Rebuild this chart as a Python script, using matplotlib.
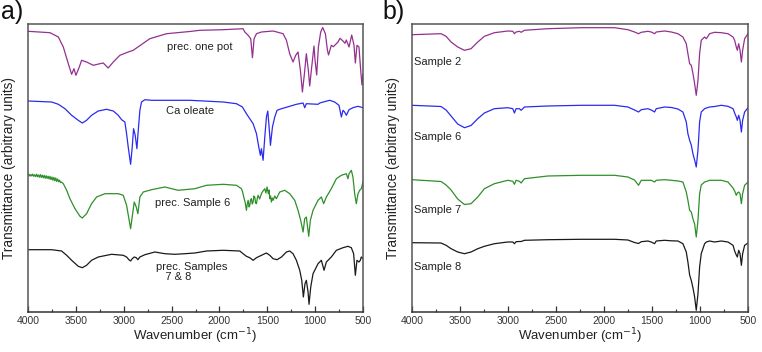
import matplotlib
matplotlib.use("Agg")
import matplotlib.pyplot as plt
from matplotlib.ticker import MultipleLocator

plt.rcParams['font.family'] = ['Liberation Sans', 'DejaVu Sans']

# ---------------- Panel a data (wavenumber cm-1, transmittance arb. units) ----------------
a_onepot_wn = [4000, 3770, 3683, 3631, 3579, 3544, 3520, 3499, 3464, 3440, 3388, 3318, 3249, 3214,
               3162, 3109, 3040, 2953, 2901, 2727, 2553, 2309, 2205, 1961, 1753, 1735, 1700, 1673,
               1655, 1638, 1613, 1561, 1439, 1335, 1300, 1266, 1231, 1203, 1179, 1154, 1133, 1112,
               1092, 1071, 1057, 1036, 1012, 1001, 984, 966, 942, 921, 893, 872, 860, 831, 810,
               761, 740, 709, 688, 674, 646, 618, 594, 580, 563, 542, 524, 511, 500]
a_onepot_t = [280.7, 279.3, 275, 265, 248.3, 237.7, 243.3, 236.7, 245, 251.7, 250, 246.7, 248.3, 249,
              244, 250, 256.7, 260, 261.7, 273.3, 278.3, 280.5, 281.7, 282.3, 283.3, 280, 276.7, 273.3,
              254.3, 273.3, 278.3, 280, 281, 278.3, 271.7, 258.3, 250, 256.7, 260, 241.7, 220, 238.3,
              258.3, 241.7, 226, 245, 266, 251.7, 237, 265, 280, 284.5, 278.3, 262, 257, 266.7, 265.3,
              270, 273.7, 271, 268.7, 272, 265, 277, 266.7, 249, 266.7, 265, 241.7, 227, 238]

a_oleate_wn = [4000, 3753, 3683, 3614, 3544, 3475, 3433, 3388, 3336, 3266, 3179, 3109, 3057, 3022,
               2988, 2970, 2953, 2928, 2911, 2897, 2880, 2862, 2848, 2831, 2814, 2779, 2709, 2309,
               1961, 1822, 1760, 1718, 1683, 1648, 1613, 1589, 1572, 1561, 1544, 1526, 1509, 1495,
               1481, 1467, 1446, 1422, 1398, 1352, 1266, 1196, 1126, 1109, 1092, 970, 952, 848,
               796, 751, 726, 709, 692, 674, 646, 605, 552, 500]
a_oleate_t = [211, 210, 207.7, 203.3, 196.7, 191.7, 189, 191.7, 196.7, 201, 202.7, 201, 196.7, 192.3,
              190, 178.3, 165, 147.7, 165, 183.3, 176.7, 163.3, 181.7, 201.7, 210, 212.3, 211.7, 211.7,
              210, 208.3, 205, 198.3, 193.3, 188.3, 178.3, 165, 156.7, 163.3, 151.7, 175, 195, 201,
              185, 166.7, 185, 195, 201.7, 203.3, 205.7, 207.7, 209, 204.3, 208.3, 207.7, 209, 211.7,
              210, 206.7, 195, 201.7, 200, 196.7, 202.3, 204.3, 205.7, 204.3]

a_s6_wn = [4000, 3990, 3980, 3970, 3960, 3950, 3940, 3930, 3920, 3910, 3900, 3890, 3880, 3870, 3860,
           3850, 3840, 3830, 3820, 3810, 3800, 3790, 3780, 3770, 3760, 3750, 3740, 3730, 3720, 3710,
           3700, 3690, 3680, 3670, 3660, 3650, 3631, 3596, 3562, 3509, 3457, 3433, 3388, 3336,
           3283, 3196, 3057, 3005, 2970, 2946, 2928, 2911, 2890, 2869, 2852, 2831, 2796, 2709, 2570,
           2431, 2257, 2135, 1961, 1822, 1770, 1758, 1746, 1732, 1718, 1709, 1700, 1690, 1683, 1675,
           1666, 1657, 1648, 1640, 1631, 1622, 1613, 1604, 1596, 1580, 1561, 1545, 1526, 1515, 1502,
           1495, 1488, 1481, 1474, 1466, 1457, 1448, 1439, 1422, 1405, 1370, 1318, 1266, 1213, 1179,
           1151, 1126, 1109, 1092, 1067, 1050, 1022, 970, 935, 911, 883, 831, 778, 726, 674, 657,
           646, 622, 605, 587, 570, 552, 535, 518, 500]
a_s6_t = [136.7, 137.8, 135.9, 137.5, 136, 137.9, 135.7, 137.2, 135.4, 137.8, 135.2, 137, 134.8, 137.4,
          134.6, 136.8, 134.2, 136.6, 133.8, 136.2, 133.6, 135.8, 133, 135.6, 132.4, 135, 131.8, 134.6,
          131.2, 134, 130.6, 133, 130.2, 131.8, 129.4, 130, 128.3, 121.7, 113.3, 103.3, 95.7, 94, 98.3, 108.3,
          115, 118.3, 118.3, 116.7, 106.7, 93.3, 83.3, 95, 110, 105, 98.3, 115, 120, 122.3, 125,
          121.7, 123.3, 126.7, 127.7, 126.7, 123.3, 120, 115, 110, 101.7, 108, 111.7, 105, 106.7, 112,
          113.3, 108, 110, 116, 115, 109, 108.3, 114, 116.7, 113, 118.3, 121, 123.3, 119, 125,
          121, 118.3, 122, 113.3, 116, 110, 114, 111.7, 116, 113.3, 120, 121.7, 118.3, 111.7, 101.7,
          91.7, 80, 93.3, 95, 75.7, 91.7, 101.7, 111.7, 115, 108.3, 115, 123.3, 133.3, 136.7, 138.3, 133.3,
          138.3, 141.7, 135, 118.3, 108.3, 118.3, 121.7, 123.3, 130]

a_s78_wn = [4000, 3753, 3649, 3596, 3544, 3475, 3433, 3388, 3336, 3266, 3127, 3005, 2970, 2946, 2928,
            2911, 2890, 2869, 2852, 2831, 2779, 2675, 2570, 2466, 2361, 2257, 2135, 1961, 1787, 1753,
            1718, 1683, 1648, 1613, 1561, 1509, 1474, 1439, 1398, 1352, 1300, 1266, 1231, 1196, 1161,
            1140, 1123, 1106, 1092, 1074, 1064, 1046, 1022, 970, 935, 907, 883, 831, 778, 709, 657,
            622, 598, 580, 563, 542, 528, 518, 500]
a_s78_t = [62.3, 62.3, 61, 56.7, 51.7, 45.7, 44.3, 46.7, 51.7, 55, 57.7, 56.7, 55, 52.3, 51,
           53.3, 55, 54.3, 52.3, 55, 57.3, 60, 58.3, 57.7, 58.3, 59, 61, 61.7, 61, 58.3,
           55.7, 54.3, 51.7, 54.3, 56.7, 59, 56.7, 53.3, 52.3, 55, 60, 61, 58.3, 51.7, 41.7,
           31.7, 15, 28.3, 31.7, 20, 7.7, 25, 38.3, 48.3, 51.7, 41.7, 50, 55, 61.7, 64.3, 65.7,
           64.3, 58.3, 36.7, 51.7, 50, 51.7, 55, 53.3]

# ---------------- Panel b data ----------------
b_wn = [4000, 3698, 3645, 3593, 3524, 3454, 3385, 3315, 3246, 3142, 3002, 2950, 2933, 2916, 2881,
        2863, 2829, 2585, 2238, 1890, 1751, 1682, 1640, 1612, 1543, 1508, 1473, 1456, 1369, 1299,
        1230, 1178, 1143, 1126, 1108, 1091, 1073, 1056, 1039, 1021, 1004, 987, 952, 934, 900, 848,
        778, 709, 656, 639, 622, 611, 597, 583, 569, 556, 535, 500]
b_s2_t = [277.3, 278.3, 275.7, 270, 265, 261.7, 263.3, 270, 275.7, 279.3, 281, 280.7, 278.3, 280, 280.7,
          279.7, 281.7, 283.3, 284.3, 284.3, 282.3, 280, 278.3, 279.7, 280.7, 280, 278.3, 280, 281, 280,
          278.3, 275, 268.3, 258.3, 248.3, 246.7, 238.3, 228.3, 216.7, 231.7, 258.3, 271.7, 275, 273.3,
          278.3, 279.7, 279.3, 278.3, 275, 271.7, 265, 261.7, 268.3, 261.7, 250, 261.7, 273.3, 278.3]
b_s6_t = [206.7, 205.5, 202, 196, 188, 184.3, 186.5, 193.3, 199, 203.3, 204.3, 203.3, 199, 203.3, 203.3,
          201.7, 205, 206, 206.7, 206.7, 205, 202, 200, 202.3, 203.3, 202, 200, 203.3, 205, 204.5,
          203, 200, 190, 178.3, 171.7, 167, 158, 152, 145, 162, 190, 200, 203.3, 204, 205, 205.5,
          206.7, 205.7, 203.3, 199, 195, 191.7, 196.7, 191.7, 180, 191.7, 200, 204.3]
b_s7_t = [132.3, 130.5, 127, 122, 113, 107.5, 108.3, 115, 123.3, 128.3, 131.7, 130.7, 127.7, 131.7, 130.7,
          129, 133.3, 136, 136.7, 136.7, 135, 132, 126.7, 131.7, 131.7, 131.7, 130, 131.7, 132.3, 131.7,
          131, 130, 120, 111.7, 101.7, 100, 93, 88, 75, 91.7, 118, 127, 130, 130.5, 131.7, 131.7,
          131.7, 130, 124, 121, 116.7, 119, 120, 118.3, 108.3, 118.3, 126.7, 130]
b_s8_t = [69.3, 69, 66.7, 63.3, 60, 58.3, 60, 63.3, 65.7, 68.3, 70, 70, 68.3, 70.3, 70.5,
          70.5, 71.7, 72.3, 72.7, 72.7, 72, 69.5, 68.5, 70.3, 71, 70, 68.3, 71, 71.7, 71.2,
          71, 68.3, 60, 50, 37, 31.7, 24, 15, 1.7, 18.3, 45, 58.3, 68.3, 70, 71, 70,
          71, 70, 66.7, 61, 57, 55, 61.7, 58.3, 46.7, 58.3, 66.7, 69]

# ---------------- labels ----------------
a_labels = ["prec. one pot", "Ca oleate", "prec. Sample 6", "prec. Samples\n   7 & 8"]
b_labels = ["Sample 2", "Sample 6", "Sample 7", "Sample 8"]
xticks = [4000, 3500, 3000, 2500, 2000, 1500, 1000, 500]

c_purple = "#93318F"
c_blue = "#2B2BEE"
c_green = "#2F8F2A"
c_black = "#1A1A1A"

fig = plt.figure(figsize=(7.62, 3.52), dpi=100)
W, H = 762.0, 352.0
axa = fig.add_axes([28 / W, (H - 312) / H, 335 / W, 288 / H])
axb = fig.add_axes([412 / W, (H - 312) / H, 336 / W, 288 / H])

lw = 0.9
axa.plot(a_onepot_wn, a_onepot_t, color=c_purple, lw=lw)
axa.plot(a_oleate_wn, a_oleate_t, color=c_blue, lw=lw)
axa.plot(a_s6_wn, a_s6_t, color=c_green, lw=lw)
axa.plot(a_s78_wn, a_s78_t, color=c_black, lw=lw)

axb.plot(b_wn, b_s2_t, color=c_purple, lw=lw)
axb.plot(b_wn, b_s6_t, color=c_blue, lw=lw)
axb.plot(b_wn, b_s7_t, color=c_green, lw=lw)
axb.plot(b_wn, b_s8_t, color=c_black, lw=lw)

for ax in (axa, axb):
    ax.set_xlim(4000, 500)
    ax.set_ylim(0, 288)
    ax.set_xticks(xticks)
    ax.set_xticklabels([str(v) for v in xticks])
    ax.xaxis.set_minor_locator(MultipleLocator(250))
    ax.tick_params(axis='x', which='major', direction='in', length=4, width=0.9,
                   labelsize=7.5, pad=3, colors='#333333')
    ax.tick_params(axis='x', which='minor', direction='in', length=2.5, width=0.8, colors='#333333')
    ax.set_yticks([])
    for s in ax.spines.values():
        s.set_color('#555555')
        s.set_linewidth(1.1)
    ax.spines['bottom'].set_color('#333333')
    ax.set_xlabel("Wavenumber (cm$^{-1}$)", fontsize=9.5, labelpad=0, color='#222222')
    ax.set_ylabel("Transmittance (arbitrary units)", fontsize=9.8, color='#222222')
    ax.yaxis.set_label_coords(-0.035, 0.5)

# panel a labels (positions in data coords)
axa.text(2548, 265, a_labels[0], fontsize=8, color='#222222', va='center', ha='left')
axa.text(2558, 201, a_labels[1], fontsize=8, color='#222222', va='center', ha='left')
axa.text(2673, 109, a_labels[2], fontsize=8, color='#222222', va='center', ha='left')
axa.text(2663, 40, a_labels[3], fontsize=8, color='#222222', va='center', ha='left',
         linespacing=1.1)

# panel b labels
b_label_y = [250, 175, 102, 45]
for lab, yy in zip(b_labels, b_label_y):
    axb.text(3980, yy, lab, fontsize=8, color='#222222', va='center', ha='left')

fig.text(1 / W, 1 - 0 / H, "a)", fontsize=18, va='top', ha='left', color='#111111')
fig.text(382 / W, 1 - 0 / H, "b)", fontsize=18, va='top', ha='left', color='#111111')

fig.savefig("out.png", dpi=100)
